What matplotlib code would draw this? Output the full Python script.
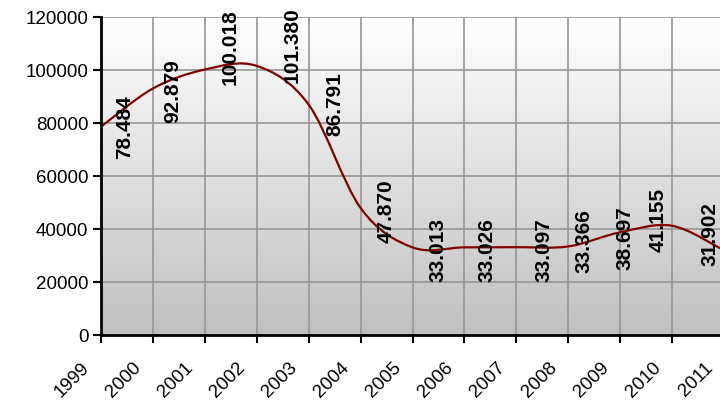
import numpy as np
import matplotlib
matplotlib.use("Agg")
import matplotlib.pyplot as plt
from matplotlib.path import Path
from matplotlib.patches import PathPatch
from matplotlib.colors import LinearSegmentedColormap

years = [1999, 2000, 2001, 2002, 2003, 2004, 2005, 2006, 2007, 2008, 2009, 2010, 2011]
values = [78484, 92879, 100018, 101380, 86791, 47870, 33013, 33026, 33097, 33366, 38697, 41155, 31902]
value_labels = ["78.484", "92.879", "100.018", "101.380", "86.791", "47.870", "33.013",
                "33.026", "33.097", "33.366", "38.697", "41.155", "31.902"]

# label placement relative to the point, in pixels (x right, y up)
label_dx = [24, 20, 25, 35, 26, 26, 26, 23, 28, 16, 5, -14, -14]
label_dy = [1, -2, 23, 22, 2, -2, -2, -2, -2, 6, -5, 7, 17]

plt.rcParams["font.family"] = ["Liberation Sans", "DejaVu Sans"]

W, H = 720, 406
fig = plt.figure(figsize=(W / 100, H / 100), dpi=100)
ax = fig.add_axes([101 / W, 70 / H, 623 / W, 318.5 / H])

# background gradient white -> grey
cmap = LinearSegmentedColormap.from_list("bg", ["#c0c0c0", "#ffffff"])
grad = np.linspace(0, 1, 256).reshape(-1, 1)
ax.imshow(grad, cmap=cmap, aspect="auto", origin="lower",
          extent=[0, 1, 0, 1], transform=ax.transAxes, zorder=0)

# smoothed line (Catmull-Rom style Bezier segments, like Excel smoothing)
pts = np.column_stack([years, values]).astype(float)
n = len(pts)
verts = [pts[0]]
codes = [Path.MOVETO]
for i in range(n - 1):
    p0 = pts[i - 1] if i > 0 else pts[i]
    p1 = pts[i]
    p2 = pts[i + 1]
    p3 = pts[i + 2] if i + 2 < n else pts[i + 1]
    c1 = p1 + (p2 - p0) / 6
    c2 = p2 - (p3 - p1) / 6
    verts += [c1, c2, p2]
    codes += [Path.CURVE4] * 3
ax.add_patch(PathPatch(Path(verts, codes), facecolor="none", edgecolor="#800000",
                       linewidth=1.6, zorder=3, clip_on=False))

for x, y, lab, dx, dy in zip(years, values, value_labels, label_dx, label_dy):
    ax.annotate(lab, (x, y), xytext=(dx * 0.72, dy * 0.72), textcoords="offset points",
                rotation=90, ha="center", va="center", fontsize=15,
                fontweight="bold", color="black", zorder=4, annotation_clip=False)

ax.set_xlim(1999, 2011)
ax.set_ylim(0, 120000)
ax.set_xticks(years)
ax.set_xticklabels([])
# year labels sit a bit left of and below each tick
for x in years:
    ax.annotate(str(x), (x, 0), xytext=(-8 * 0.72, -23 * 0.72), textcoords="offset points",
                rotation=45, ha="right", va="top", fontsize=13.5, annotation_clip=False)
ax.set_yticks(range(0, 120001, 20000))
ax.tick_params(axis="y", labelsize=13.5, length=6, width=1.5, pad=3)
ax.tick_params(axis="x", length=6, width=1.5)
ax.grid(True, color="#969696", linewidth=1.2, zorder=1)
ax.set_axisbelow(True)
for side in ("top", "right"):
    ax.spines[side].set_visible(False)
for side in ("left", "bottom"):
    ax.spines[side].set_linewidth(2)
    ax.spines[side].set_zorder(5)

fig.savefig("out.png", dpi=100)
